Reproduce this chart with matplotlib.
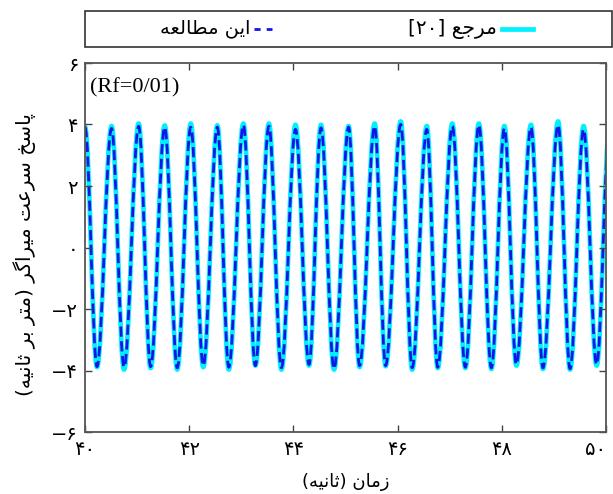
import numpy as np
import matplotlib
matplotlib.use('Agg')
import matplotlib.pyplot as plt
from matplotlib.path import Path
from matplotlib.patches import PathPatch, Rectangle
from matplotlib.lines import Line2D
from matplotlib.ticker import FixedLocator, FuncFormatter

# -----------------
#  Data: peaks and troughs of the damper velocity
# -----------------
t_max = [40.00, 40.51, 41.03, 41.53, 42.03, 42.54, 43.04, 43.53, 44.04, 44.53, 45.06,
         45.56, 46.06, 46.56, 47.05, 47.56, 48.05, 48.56, 49.08, 49.57, 50.07]
t_min = [40.23, 40.75, 41.26, 41.77, 42.27, 42.76, 43.27, 43.77, 44.30, 44.78,
         45.27, 45.77, 46.28, 46.77, 47.30, 47.80, 48.28, 48.79, 49.31, 49.82]

# reference [20]
ref_max = [3.92, 3.95, 4.03, 3.97, 4.03, 3.97, 4.03, 4.03, 3.99, 3.99, 3.95,
           4.03, 4.10, 3.95, 4.03, 4.03, 3.95, 3.99, 4.10, 3.95, 3.92]
ref_min = [-3.89, -3.97, -3.92, -3.97, -3.89, -3.97, -3.84, -3.97, -3.84, -3.97,
           -3.89, -3.86, -3.97, -3.92, -3.92, -3.95, -3.84, -3.95, -3.97, -3.84]

# this study
study_max = [3.91, 3.87, 3.94, 3.91, 3.91, 3.91, 3.98, 3.94, 3.84, 3.89, 3.91,
             3.94, 4.00, 3.84, 3.94, 3.98, 3.87, 3.91, 3.98, 3.84, 3.91]
study_min = [-3.87, -3.89, -3.87, -3.91, -3.84, -3.89, -3.84, -3.91, -3.80, -3.94,
             -3.84, -3.84, -3.91, -3.89, -3.89, -3.91, -3.80, -3.91, -3.94, -3.80]

x_ticks = [40, 42, 44, 46, 48, 50]
y_ticks = [-6, -4, -2, 0, 2, 4, 6]

label_ref = 'مرجع [۲۰]'
label_study = 'این مطالعه'
x_label = 'زمان (ثانیه)'
y_label = 'پاسخ سرعت میراگر (متر بر ثانیه)'
note = '(Rf=0/01)'

# -----------------
#  Arabic/Persian shaping (no reshaper lib available)
# -----------------
# isolated, final, initial, medial
FORMS = {
    'ا': ('\uFE8D', '\uFE8E', None, None),
    'ب': ('\uFE8F', '\uFE90', '\uFE91', '\uFE92'),
    'پ': ('\uFB56', '\uFB57', '\uFB58', '\uFB59'),
    'ت': ('\uFE95', '\uFE96', '\uFE97', '\uFE98'),
    'ث': ('\uFE99', '\uFE9A', '\uFE9B', '\uFE9C'),
    'ج': ('\uFE9D', '\uFE9E', '\uFE9F', '\uFEA0'),
    'خ': ('\uFEA5', '\uFEA6', '\uFEA7', '\uFEA8'),
    'ر': ('\uFEAD', '\uFEAE', None, None),
    'ز': ('\uFEAF', '\uFEB0', None, None),
    'س': ('\uFEB1', '\uFEB2', '\uFEB3', '\uFEB4'),
    'ط': ('\uFEC1', '\uFEC2', '\uFEC3', '\uFEC4'),
    'ع': ('\uFEC9', '\uFECA', '\uFECB', '\uFECC'),
    'گ': ('\uFB92', '\uFB93', '\uFB94', '\uFB95'),
    'ل': ('\uFEDD', '\uFEDE', '\uFEDF', '\uFEE0'),
    'م': ('\uFEE1', '\uFEE2', '\uFEE3', '\uFEE4'),
    'ن': ('\uFEE5', '\uFEE6', '\uFEE7', '\uFEE8'),
    'ه': ('\uFEE9', '\uFEEA', '\uFEEB', '\uFEEC'),
    'ی': ('\uFBFC', '\uFBFD', '\uFBFE', '\uFBFF'),
}
MIRROR = {'(': ')', ')': '(', '[': ']', ']': '['}
DIGITS = '0123456789۰۱۲۳۴۵۶۷۸۹'


def shape(s):
    out = []
    for i, ch in enumerate(s):
        if ch not in FORMS:
            out.append(ch)
            continue
        prev = s[i-1] if i > 0 else ''
        nxt = s[i+1] if i < len(s)-1 else ''
        jp = prev in FORMS and FORMS[prev][2] is not None
        jn = FORMS[ch][2] is not None and nxt in FORMS
        iso, fin, ini, med = FORMS[ch]
        if jp and jn:
            out.append(med)
        elif jp:
            out.append(fin)
        elif jn:
            out.append(ini)
        else:
            out.append(iso)
    # visual order: reverse, keep digit runs LTR, mirror brackets
    tokens = []
    for ch in out:
        if ch in DIGITS and tokens and tokens[-1][0] in DIGITS:
            tokens[-1] += ch
        else:
            tokens.append(ch)
    return ''.join(MIRROR.get(tk, tk) for tk in reversed(tokens))


def fa_num(v):
    s = str(abs(int(v))).translate(str.maketrans('0123456789', '۰۱۲۳۴۵۶۷۸۹'))
    return ('−' + s) if v < 0 else s


def smooth_path(tp, vp, tm, vm, k=0.363):
    t = np.empty(len(tp) + len(tm))
    v = np.empty(len(tp) + len(tm))
    t[0::2], t[1::2] = tp, tm
    v[0::2], v[1::2] = vp, vm
    verts = [(t[0], v[0])]
    codes = [Path.MOVETO]
    for i in range(1, len(t)):
        dt = t[i] - t[i-1]
        verts += [(t[i-1] + k*dt, v[i-1]), (t[i] - k*dt, v[i]), (t[i], v[i])]
        codes += [Path.CURVE4] * 3
    return Path(verts, codes)


plt.rcParams['font.family'] = ['DejaVu Sans']

W, H = 613, 494
fig = plt.figure(figsize=(W/100, H/100), dpi=100)
ax = fig.add_axes([85/W, 1-432/H, (606-85)/W, (432-63)/H])

c_ref = '#00f0ff'
c_study = '#1414e6'

ax.add_patch(PathPatch(smooth_path(t_max, ref_max, t_min, ref_min),
                       fill=False, edgecolor=c_ref, lw=3.4, joinstyle='round'))
ax.add_patch(PathPatch(smooth_path(t_max, study_max, t_min, study_min),
                       fill=False, edgecolor=c_study, lw=2.0, linestyle='--'))

ax.set_xlim(40, 50)
ax.set_ylim(-6, 6)
ax.xaxis.set_major_locator(FixedLocator(x_ticks))
ax.yaxis.set_major_locator(FixedLocator(y_ticks))
ax.xaxis.set_major_formatter(FuncFormatter(lambda v, p: fa_num(v)))
ax.yaxis.set_major_formatter(FuncFormatter(lambda v, p: fa_num(v)))
ax.tick_params(direction='in', top=True, right=True, length=5, width=1,
               color='#444444', labelsize=14)
ax.tick_params(axis='x', pad=6)
ax.tick_params(axis='y', pad=5)
for sp in ax.spines.values():
    sp.set_color('#555555')
    sp.set_linewidth(1.3)

fig.canvas.draw()
ax.get_xticklabels()[-1].set_horizontalalignment('right')

ax.set_xlabel(shape(x_label), fontsize=13)
ax.xaxis.set_label_coords(0.5, -0.11)
ax.set_ylabel(shape(y_label), fontsize=14.5)
ax.yaxis.set_label_coords(-0.095, 0.48)

ax.text(0.01, 0.932, note, transform=ax.transAxes, ha='left', va='center',
        fontsize=16, family='Liberation Serif')

# legend box above the plot (RTL: handle to the right of the text)
fig.add_artist(Rectangle((85/W, 1-47/H), (612-85)/W, 36/H, transform=fig.transFigure,
                         fill=False, edgecolor='#333333', lw=1.2))
ly = 1 - 29/H
fig.add_artist(Line2D([254/W, 272/W], [ly, ly], transform=fig.transFigure,
                      color=c_study, lw=2.0, linestyle=(0, (2.2, 2.2))))
fig.add_artist(Line2D([502/W, 533/W], [ly, ly], transform=fig.transFigure,
                      color=c_ref, lw=3.4))
fig.text(251/W, ly, shape(label_study), ha='right', va='center', fontsize=14)
fig.text(497/W, ly, shape(label_ref), ha='right', va='center', fontsize=14.5)

fig.savefig('out.png', dpi=100)
